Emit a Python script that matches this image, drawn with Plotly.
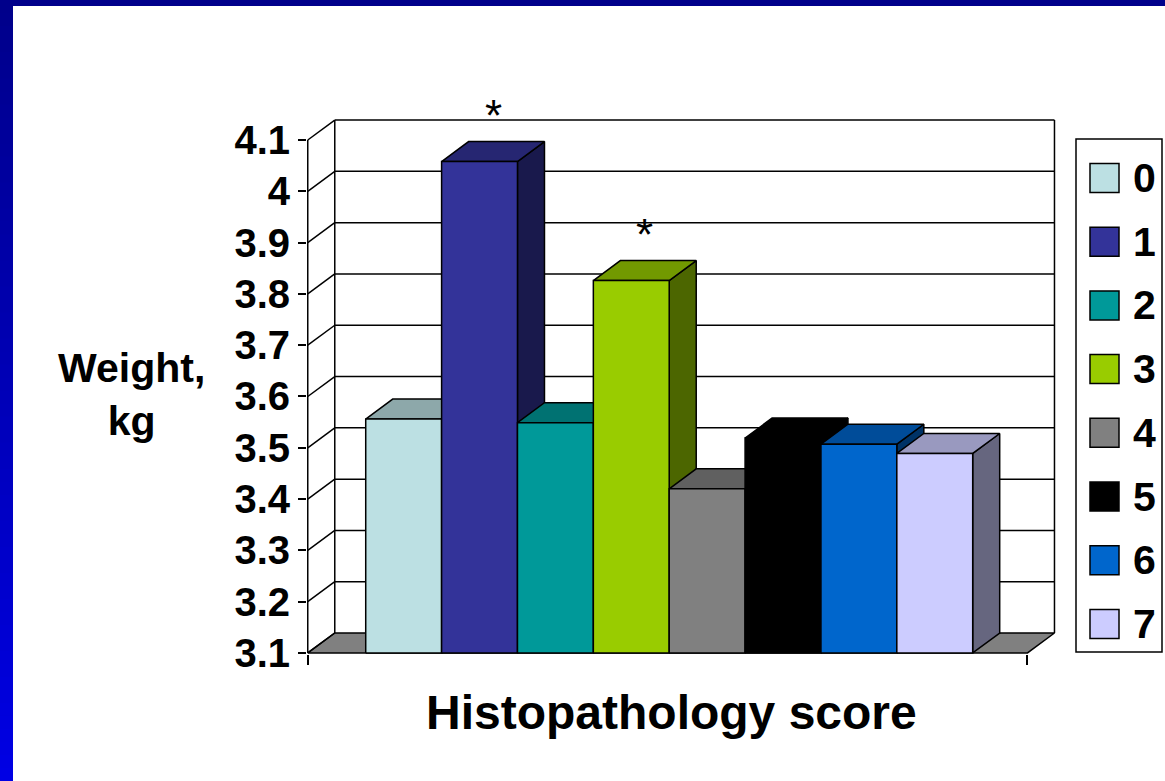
import plotly.graph_objects as go

# ---- data -------------------------------------------------------------
scores = ["0", "1", "2", "3", "4", "5", "6", "7"]
weights = [3.556, 4.058, 3.549, 3.826, 3.420, 3.519, 3.507, 3.489]
significant = [False, True, False, True, False, False, False, False]
bar_colors = ["#BCE0E3", "#333399", "#009999", "#99CC00",
              "#808080", "#000000", "#0066CC", "#CCCCFF"]
y_ticks = [3.1, 3.2, 3.3, 3.4, 3.5, 3.6, 3.7, 3.8, 3.9, 4.0, 4.1]
y_tick_labels = ["3.1", "3.2", "3.3", "3.4", "3.5", "3.6", "3.7", "3.8", "3.9", "4", "4.1"]

# ---- 3-D geometry (data units) -----------------------------------------
Y0 = y_ticks[0]
Y1 = y_ticks[-1]
DX = 0.356          # horizontal depth offset of the back wall
DY = 0.0389         # vertical depth offset of the back wall
XL = -1.264         # left end of the front floor edge
XR = 8.222          # right end of the front floor edge

W, H = 1165, 781
ML, MR, MT, MB = 307, 109, 118, 127
PW, PH = W - ML - MR, H - MT - MB
FONT = "Liberation Sans, Arial"


def shade(hex_color, k):
    h = hex_color.lstrip("#")
    r, g, b = (int(h[i:i + 2], 16) for i in (0, 2, 4))
    return "#%02X%02X%02X" % (int(r * k), int(g * k), int(b * k))


def px_x(p):
    return (p - ML) / PW


def px_y(p):
    return (H - MB - p) / PH


def polygon(xs, ys, fill, lw=1.5):
    return go.Scatter(x=xs + [xs[0]], y=ys + [ys[0]], mode="lines", fill="toself",
                      fillcolor=fill, line=dict(color="black", width=lw),
                      hoverinfo="skip", showlegend=False)


def segment(x0, y0, x1, y1, lw=1.5):
    return go.Scatter(x=[x0, x1], y=[y0, y1], mode="lines",
                      line=dict(color="black", width=lw),
                      hoverinfo="skip", showlegend=False)


fig = go.Figure()

# floor
fig.add_trace(polygon([XL, XR, XR + DX, XL + DX], [Y0, Y0, Y0 + DY, Y0 + DY], "#808080"))

# back wall gridlines and side-wall diagonals
for v in y_ticks:
    if v > Y0:
        fig.add_trace(segment(XL + DX, v + DY, XR + DX, v + DY))
    fig.add_trace(segment(XL, v, XL + DX, v + DY))
fig.add_trace(segment(XL + DX, Y0 + DY, XL + DX, Y1 + DY))
fig.add_trace(segment(XR + DX, Y0 + DY, XR + DX, Y1 + DY))
fig.add_trace(segment(XL, Y0, XL, Y1))

# bars, drawn left to right so nearer faces cover farther ones
for i, (v, c) in enumerate(zip(weights, bar_colors)):
    a, b = i - 0.5, i + 0.5
    fig.add_trace(polygon([b, b + DX, b + DX, b], [Y0, Y0 + DY, v + DY, v], shade(c, 0.5)))
    fig.add_trace(polygon([a, b, b + DX, a + DX], [v, v, v + DY, v + DY], shade(c, 0.75)))
    fig.add_trace(polygon([a, b, b, a], [Y0, Y0, v, v], c))

# significance marks
annotations = []
for i, (v, s) in enumerate(zip(weights, significant)):
    if s:
        annotations.append(dict(x=i + DX / 2, y=v + DY, xref="x", yref="y", text="*",
                                showarrow=False, yanchor="bottom", xanchor="center",
                                yshift=0,
                                font=dict(family=FONT, size=44, color="black")))

# axis titles
annotations.append(dict(x=px_x(131), y=px_y(394), xref="paper", yref="paper",
                        xanchor="center", yanchor="middle",
                        text="Weight,<br>kg", showarrow=False, align="center",
                        font=dict(family=FONT, size=41, color="black", weight="bold")))
annotations.append(dict(x=px_x(671), y=px_y(712), xref="paper", yref="paper",
                        xanchor="center", yanchor="middle",
                        text="Histopathology score", showarrow=False,
                        font=dict(family=FONT, size=48, color="black", weight="bold")))

# legend
shapes = []
shapes.append(dict(type="rect", xref="paper", yref="paper",
                   x0=px_x(1076), x1=px_x(1162), y0=px_y(652), y1=px_y(139),
                   line=dict(color="black", width=1.5), fillcolor="white"))
for k, (lab, c) in enumerate(zip(scores, bar_colors)):
    cy = 178 + 63.7 * k
    shapes.append(dict(type="rect", xref="paper", yref="paper",
                       x0=px_x(1090), x1=px_x(1119), y0=px_y(cy + 14.5), y1=px_y(cy - 14.5),
                       line=dict(color="black", width=1.5), fillcolor=c))
    annotations.append(dict(x=px_x(1131), y=px_y(cy), xref="paper", yref="paper",
                            text=lab, showarrow=False, xanchor="left", yanchor="middle",
                            font=dict(family=FONT, size=41, color="black", weight="bold")))

# slide frame: blue band along the left and top edges
n_bands = 60
for k in range(n_bands):
    t = k / (n_bands - 1)
    col = "#%02X%02X%02X" % (0, 0, int(0x8B + (0xE4 - 0x8B) * t))
    shapes.append(dict(type="rect", xref="paper", yref="paper",
                       x0=px_x(0), x1=px_x(13),
                       y0=px_y(H * (k + 1) / n_bands + 1), y1=px_y(H * k / n_bands),
                       line=dict(width=0), fillcolor=col))
shapes.append(dict(type="rect", xref="paper", yref="paper",
                   x0=px_x(0), x1=px_x(W), y0=px_y(6), y1=px_y(0),
                   line=dict(width=0), fillcolor="#00008B"))

fig.update_layout(
    width=W, height=H,
    margin=dict(l=ML, r=MR, t=MT, b=MB),
    paper_bgcolor="white", plot_bgcolor="white",
    showlegend=False,
    shapes=shapes, annotations=annotations,
    xaxis=dict(range=[XL - 0.01, XR + DX + 0.02], showgrid=False, zeroline=False,
               showline=False, tickvals=[XL, XR], ticks="outside", ticklen=10,
               tickwidth=1.5, tickcolor="black", showticklabels=False, fixedrange=True),
    yaxis=dict(range=[Y0 - 0.002, Y1 + DY + 0.004], showgrid=False, zeroline=False,
               showline=False, tickvals=y_ticks, ticktext=y_tick_labels,
               ticks="outside", ticklen=8, tickwidth=1.5, tickcolor="black",
               tickfont=dict(family=FONT, size=40, color="black", weight="bold"),
               fixedrange=True),
)

fig.write_html("out.html")
